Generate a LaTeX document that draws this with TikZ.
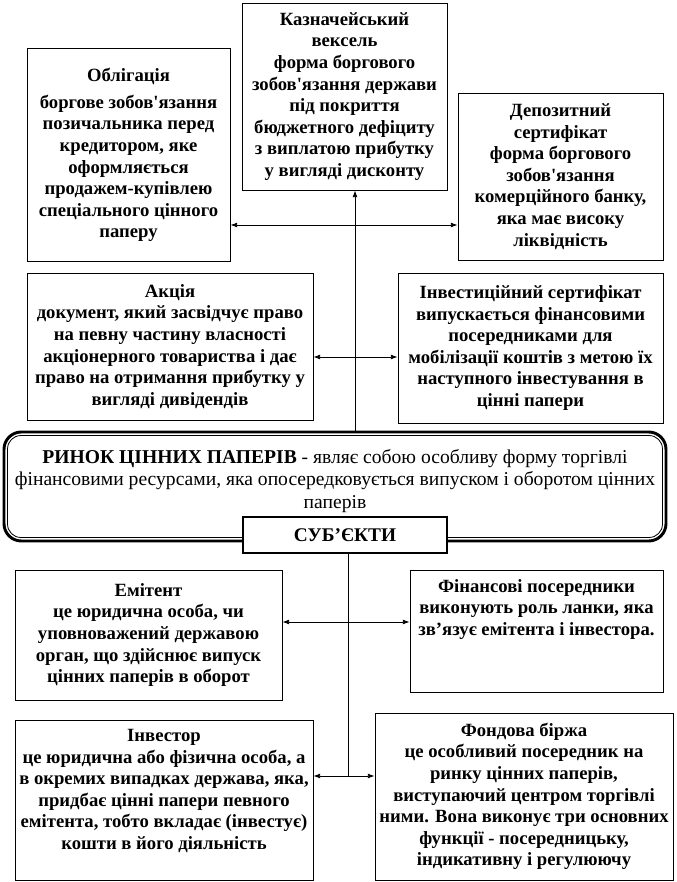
\documentclass[tikz,border=0pt]{standalone}
\usepackage{fontspec}
\setmainfont{Liberation Serif}
\usetikzlibrary{arrows.meta,positioning}

\tikzset{
  box/.style 2 args={draw,line width=0.6pt,minimum width=#1*0.75pt,minimum height=#2*0.75pt,
    inner sep=2pt,align=center,font=\fontsize{14}{16.2}\selectfont\bfseries},
  txt/.style={align=center,inner sep=0pt,font=\fontsize{14}{16.2}\selectfont\bfseries},
  link/.style={line width=0.6pt},
  arr/.style={link,-{Latex[length=5pt,width=3.6pt]}},
  arrs/.style={link,{Latex[length=5pt,width=3.6pt]}-{Latex[length=5pt,width=3.6pt]}}
}

\begin{document}
\begin{tikzpicture}[x=0.75pt,y=-0.75pt]
\useasboundingbox (0,0) rectangle (677,882);

% securities
\node[box={205}{187}] (treas) at (344.5,96.5) {Казначейський\\вексель\\форма боргового\\зобов\textquotesingle язання держави\\під покриття\\бюджетного дефіциту\\з виплатою прибутку\\у вигляді дисконту};
\node[box={203}{213}] (bond) at (128.5,155) {Облігація\\[4pt]боргове зобов\textquotesingle язання\\позичальника перед\\кредитором, яке\\оформляється\\продажем-купівлею\\спеціального цінного\\паперу};
\node[box={205}{167}] (depo) at (560.5,176.5) {Депозитний\\сертифікат\\форма боргового\\зобов\textquotesingle язання\\комерційного банку,\\яка має високу\\ліквідність};
\node[box={286}{147}] (share) at (170,346.5) {Акція\\документ, який засвідчує право\\на певну частину власності\\акціонерного товариства і дає\\право на отримання прибутку у\\вигляді дивідендів};
\node[box={265}{150}] (invcert) at (530.5,348) {Інвестиційний сертифікат\\випускається фінансовими\\посередниками для\\мобілізації коштів з метою їх\\наступного інвестування в\\цінні папери};

% market
\node[draw,line width=2.2pt,rounded corners=13pt,minimum width=662*0.75pt,minimum height=109*0.75pt] (market) at (335,486.5) {};
\draw[link,rounded corners=10pt] ([shift={(5,5)}]market.north west) rectangle ([shift={(-5,-5)}]market.south east);
\node[align=center,inner sep=0pt,font=\fontsize{14.7}{17.2}\selectfont] (market-txt) at (335,481) {\textbf{РИНОК ЦІННИХ ПАПЕРІВ} - являє собою особливу форму торгівлі\\фінансовими ресурсами, яка опосередковується випуском і оборотом цінних\\паперів};
\node[draw,line width=1.8pt,fill=white,minimum width=204*0.75pt,minimum height=36*0.75pt,
  font=\fontsize{14.5}{17}\selectfont\bfseries] (subj) at (345,535) {СУБ’ЄКТИ};

% participants
\node[box={267}{130}] (issuer) at (148.5,635) {Емітент\\це юридична особа, чи\\уповноважений державою\\орган, що здійснює випуск\\цінних паперів в оборот};
\node[box={253}{122}] (interm) at (536.5,631) {};
\node[txt,below=7pt of interm.north] (interm-txt) {Фінансові посередники\\виконують роль ланки, яка\\зв’язує емітента і інвестора.};
\node[box={298}{160}] (investor) at (164,800) {};
\node[txt,below=7pt of investor.north] (investor-txt) {Інвестор\\це юридична або фізична особа, а\\в окремих випадках держава, яка,\\придбає цінні папери певного\\емітента, тобто вкладає (інвестує)\\кошти в його діяльність};
\node[box={298}{167}] (exch) at (524,796.5) {Фондова біржа\\це особливий посередник на\\ринку цінних паперів,\\виступаючий центром торгівлі\\ними. Вона виконує три основних\\функції - посередницьку,\\індикативну і регулюючу};

% connectors
\coordinate (up1) at (355,225);
\coordinate (up2) at (355,357);
\coordinate (dn1) at (348,622);
\coordinate (dn2) at (348,776);
\draw[arr] (up1 |- market.north) -- (up1 |- treas.south);
\draw[arrs] (bond.east |- up1) -- (depo.west |- up1);
\draw[arrs] (share.east |- up2) -- (invcert.west |- up2);
\draw[link] (dn1 |- subj.south) -- (dn2);
\draw[arrs] (issuer.east |- dn1) -- (interm.west |- dn1);
\draw[arrs] (investor.east |- dn2) -- (exch.west |- dn2);
\end{tikzpicture}
\end{document}
